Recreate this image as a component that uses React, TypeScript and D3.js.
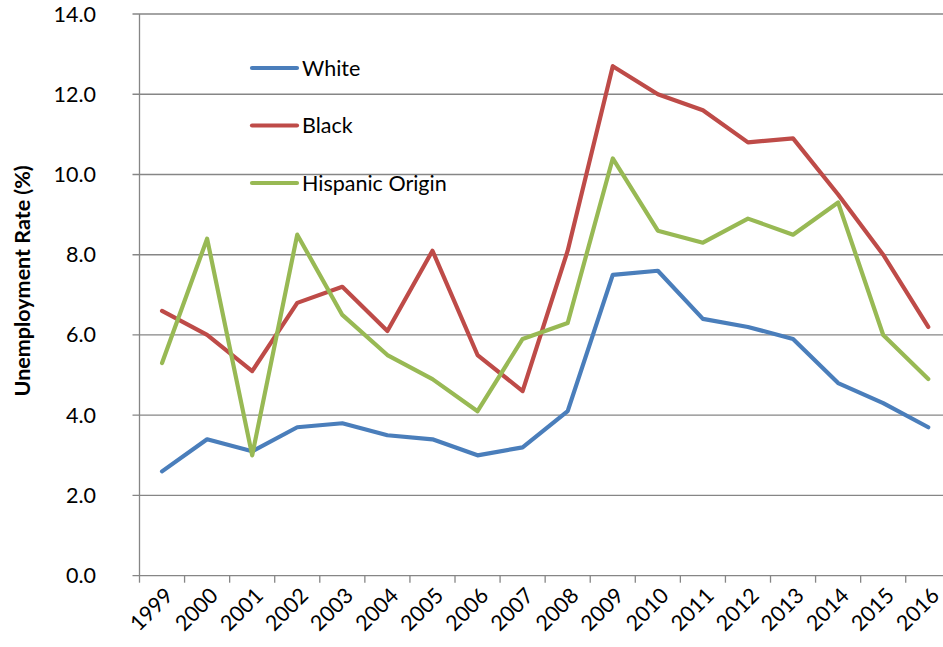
import React from "react";
import * as d3 from "d3";

// Annual unemployment rates (%) by race / ethnicity
const years = ["1999","2000","2001","2002","2003","2004","2005","2006","2007","2008","2009","2010","2011","2012","2013","2014","2015","2016"];
const white = [2.6,3.4,3.1,3.7,3.8,3.5,3.4,3.0,3.2,4.1,7.5,7.6,6.4,6.2,5.9,4.8,4.3,3.7];
const black = [6.6,6.0,5.1,6.8,7.2,6.1,8.1,5.5,4.6,8.1,12.7,12.0,11.6,10.8,10.9,9.5,8.0,6.2];
const hispanic = [5.3,8.4,3.0,8.5,6.5,5.5,4.9,4.1,5.9,6.3,10.4,8.6,8.3,8.9,8.5,9.3,6.0,4.9];
const yTicks = [0, 2, 4, 6, 8, 10, 12, 14];

const seriesNames = ["White", "Black", "Hispanic Origin"];
const seriesValues = [white, black, hispanic];
const seriesColors = ["#4a7ebb", "#be4b48", "#98b954"];

const W = 943, H = 647;
const left = 139.5, right = 950.8, top = 14, bottom = 575.7;
const FONT = "Lato, 'Open Sans', sans-serif";
const FS = 21.5;

export default function App() {
  const x = d3.scaleBand<string>().domain(years).range([left, right]).padding(0);
  const y = d3.scaleLinear().domain([0, 14]).range([bottom, top]);
  const cx = (yr: string) => (x(yr) ?? 0) + x.bandwidth() / 2;
  const line = d3.line<number>().x((_, i) => cx(years[i])).y(d => y(d));
  const bounds = [...years.map(yr => x(yr) ?? 0), right];

  return (
    <svg width={W} height={H} style={{ position: "absolute", left: 0, top: 0, background: "#fff" }}>
      {/* horizontal gridlines + y ticks */}
      {yTicks.map(t => (
        <g key={t}>
          <line x1={left - 7} x2={W} y1={y(t)} y2={y(t)} stroke="#868686" strokeWidth={1.3} />
          <text x={96} y={y(t)} dy="0.35em" textAnchor="end" fontFamily={FONT} fontSize={FS} fill="#000">
            {t.toFixed(1)}
          </text>
        </g>
      ))}
      {/* y axis line */}
      <line x1={left} x2={left} y1={top} y2={bottom} stroke="#868686" strokeWidth={1.3} />
      {/* x category tick marks */}
      {bounds.map((b, i) => (
        <line key={i} x1={b} x2={b} y1={bottom} y2={bottom + 7} stroke="#868686" strokeWidth={1.3} />
      ))}
      {/* x labels */}
      {years.map(yr => (
        <text key={yr} transform={`translate(${cx(yr) + 7},${bottom + 16}) rotate(-45)`} textAnchor="end"
          dy="0.35em" fontFamily={FONT} fontSize={FS} fill="#000">{yr}</text>
      ))}
      {/* y title */}
      <text transform={`translate(30,${(top + bottom) / 2 - 14}) rotate(-90)`} textAnchor="middle"
        fontFamily={FONT} fontWeight="bold" fontSize={21.5} fill="#000">Unemployment Rate (%)</text>
      {/* series */}
      {seriesValues.map((vals, i) => (
        <path key={seriesNames[i]} d={line(vals) ?? ""} fill="none" stroke={seriesColors[i]}
          strokeWidth={4.2} strokeLinejoin="round" strokeLinecap="round" />
      ))}
      {/* legend */}
      {seriesNames.map((n, i) => {
        const ly = 68 + i * 57.5;
        return (
          <g key={n}>
            <line x1={252} x2={297} y1={ly} y2={ly} stroke={seriesColors[i]} strokeWidth={4.2} strokeLinecap="round" />
            <text x={302} y={ly} dy="0.35em" fontFamily={FONT} fontSize={FS} fill="#000">{n}</text>
          </g>
        );
      })}
    </svg>
  );
}
